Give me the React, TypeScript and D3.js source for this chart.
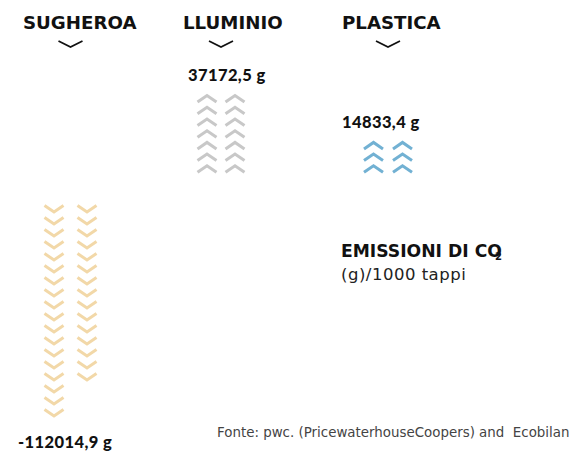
import React from "react";
import * as d3 from "d3";

// ---- data ----
const categories = ["SUGHEROA", "LLUMINIO", "PLASTICA"];
const values = [-112014.9, 37172.5, 14833.4];
const leftColumnChevrons = [18, 7, 3];
const rightColumnChevrons = [15, 7, 3];
const colors = ["#f2d8a8", "#c8c8c8", "#72b1d3"];
const titleLine1 = "EMISSIONI DI CO";
const titleSub = "2";
const titleLine2 = "(g)/1000 tappi";
const sourceText = "Fonte: pwc. (PricewaterhouseCoopers) and\u00a0\u00a0Ecobilan";

// ---- layout ----
const W = 569;
const H = 454;
const titleX = [23, 183, 342];
const groupCenter = [70.5, 221, 388];
const columnGap = [33, 28, 29];
const labelX = [18, 188, 342];
const CAPS = "'DejaVu Sans', sans-serif";
const FONT = "Lato, 'Open Sans', sans-serif";

const locale = d3.formatLocale({ decimal: ",", thousands: ".", grouping: [3], currency: ["", ""], minus: "-" });
const fmt = locale.format(".1f");

export default function App() {
  const baseline = 189;
  const upScale = d3.scaleLinear().domain([0, 1]).range([baseline - 25, baseline - 25 - 11.7]);
  const downScale = d3.scaleLinear().domain([0, 1]).range([baseline + 15, baseline + 15 + 12]);
  const chevW = 19;
  const chevH = 6.5;

  const chevronPath = (cx: number, topY: number, up: boolean) => {
    const x0 = cx - chevW / 2;
    const x1 = cx + chevW / 2;
    if (up) {
      const tip = topY + 1.8;
      return `M${x0},${tip + chevH}L${cx},${tip}L${x1},${tip + chevH}`;
    }
    const top = topY + 1.5;
    return `M${x0},${top}L${cx},${top + chevH}L${x1},${top}`;
  };

  return (
    <svg width={W} height={H} style={{ position: "absolute", left: 0, top: 0, background: "#fff" }}>
      {categories.map((cat, i) => {
        const v = values[i];
        const up = v >= 0;
        const cols = [leftColumnChevrons[i], rightColumnChevrons[i]];
        const xs = [groupCenter[i] - columnGap[i] / 2, groupCenter[i] + columnGap[i] / 2];
        const scale = up ? upScale : downScale;
        const maxN = Math.max(...cols);
        const labelY = up ? upScale(maxN - 1) - 13 : downScale(maxN - 1) + 40;
        return (
          <g key={cat}>
            <text x={titleX[i]} y={29} fontFamily={CAPS} fontWeight={700} fontSize={18.2} fill="#111">
              {cat}
            </text>
            <path
              d={`M${groupCenter[i] - 12},${41}L${groupCenter[i]},${47}L${groupCenter[i] + 12},${41}`}
              fill="none"
              stroke="#111"
              strokeWidth={1.8}
            />
            {cols.map((n, c) =>
              d3.range(n).map((k) => (
                <path
                  key={`${c}-${k}`}
                  d={chevronPath(xs[c], scale(k), up)}
                  fill="none"
                  stroke={colors[i]}
                  strokeWidth={3}
                  strokeLinejoin="miter"
                />
              ))
            )}
            <text x={labelX[i]} y={labelY} fontFamily={FONT} fontWeight={900} fontSize={16.5} letterSpacing={0.4} fill="#111">
              {fmt(v)} g
            </text>
          </g>
        );
      })}
      <text x={341} y={257} fontFamily={CAPS} fontWeight={700} fontSize={17.2} fill="#111">
        {titleLine1}
        <tspan dx={-7} dy={3} fontSize={10} fontWeight={700}>{titleSub}</tspan>
      </text>
      <text x={341} y={280} fontFamily={CAPS} fontWeight={400} fontSize={16.5} letterSpacing={0.5} fill="#222">
        {titleLine2}
      </text>
      <text x={217} y={437} fontFamily={CAPS} fontWeight={400} fontSize={13.4} fill="#444">
        {sourceText}
      </text>
    </svg>
  );
}
